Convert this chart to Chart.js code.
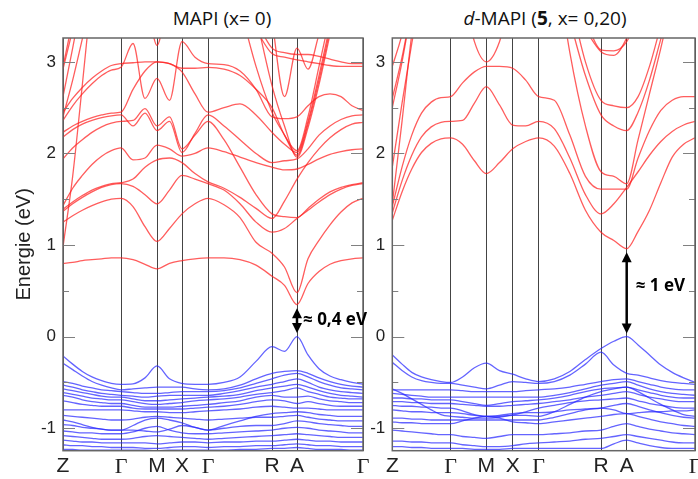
<!DOCTYPE html>
<html>
<head>
<meta charset="utf-8">
<script src="https://cdn.jsdelivr.net/npm/chart.js@4/dist/chart.umd.min.js"></script>
<style>
  body { margin: 0; background: #fff; width: 698px; height: 479px; position: relative; overflow: hidden; }
  canvas { position: absolute; top: 0; }
  #leftChart { left: 0; }
  #rightChart { left: 345px; }
  .title { position: absolute; top: 6px; font-family: 'Open Sans', sans-serif; font-size: 19px; line-height: 24px; color: #111; white-space: nowrap; transform: translateX(-50%); }
</style>
</head>
<body>
<div class="title" style="left:222px">MAPI (x= 0)</div>
<div class="title" style="left:545px"><i>d</i>-MAPI (<b>5</b>, x= 0,20)</div>
<canvas id="leftChart" width="380" height="479" style="width:380px;height:479px"></canvas>
<canvas id="rightChart" width="365" height="479" style="width:365px;height:479px"></canvas>
<script>
const _ = null;

// High-symmetry path
const kLabels = ['Z', 'Γ', 'M', 'X', 'Γ', 'R', 'A', 'Γ'];
const kTicksLeft = [0, 58, 94, 119, 145, 209, 234, 300];
const kTicksRight = [0, 58.4, 94, 120.4, 146.4, 208.7, 234.4, 302.7];
// samples per segment Z-Γ, Γ-M, M-X, X-Γ, Γ-R, R-A, A-Γ (26 points per band)
const segSteps = [6, 3, 2, 2, 4, 2, 6];
const yTicks = [-1, -0.5, 0, 0.5, 1, 1.5, 2, 2.5, 3];

// MAPI (x = 0): conduction bands (eV)
const mapiCond = [
  [0.80,0.81,0.83,0.84,0.85,0.86,0.86, 0.84,0.79,0.74, 0.80,0.83, 0.85,0.86, 0.86,0.84,0.78,0.66, 0.56,0.35, 0.58,0.71,0.79,0.83,0.85,0.86],
  [1.25,1.32,1.38,1.43,1.47,1.50,1.51, 1.42,1.20,1.04, 1.18,1.34, 1.45,1.51, 1.44,1.30,1.03,0.91, 0.76,0.48, 0.85,1.05,1.22,1.36,1.46,1.51],
  [1.37,1.45,1.52,1.58,1.63,1.66,1.67, 1.64,1.55,1.45, 1.60,1.76, 1.72,1.67, 1.60,1.45,1.25,1.14, 1.18,1.29, 1.38,1.47,1.55,1.61,1.65,1.67],
  [1.39,1.47,1.54,1.60,1.64,1.67,1.68, 1.72,1.85,1.93, 1.95,1.90, 1.78,1.69, 1.62,1.52,1.40,1.29, 1.48,1.72, 1.90,2.05,2.17,2.26,2.32,2.34],
  [1.43,1.62,1.76,1.88,1.97,2.03,2.06, 1.93,1.95,2.09, 2.05,1.97, 2.00,2.06, 2.02,1.96,1.90,1.85, 1.82,1.83, 1.88,1.94,1.99,2.02,2.04,2.05],
  [1.94,2.06,2.15,2.23,2.29,2.33,2.35, 2.36,2.49,2.30, 2.40,2.05, 2.20,2.35, 2.15,1.85,1.55,1.34, 1.31,1.30, 1.40,1.50,1.58,1.63,1.66,1.68],
  [2.18,2.26,2.32,2.36,2.39,2.41,2.42, 2.30,2.44,2.25, 2.35,2.01, 2.22,2.42, 2.30,2.15,2.00,1.90, 1.92,1.94, 2.05,2.20,2.30,2.37,2.41,2.42],
  [2.23,2.30,2.35,2.39,2.42,2.44,2.45, 2.70,2.90,3.00, 2.98,2.89, 2.65,2.45, 2.50,2.54,2.42,2.23, 2.10,2.01, 2.35,2.85,3.40],
  [2.36,2.52,2.65,2.76,2.85,2.91,2.94, 3.20,2.60,2.82, 2.58,3.22, 3.05,2.98, 2.97,2.90,2.70,2.40, 2.38,2.40, 2.52,2.62,2.65,2.62,2.52,2.47],
  [2.45,2.60,2.72,2.82,2.90,2.96,2.98, 2.99,3.00,3.00, 2.98,2.93, 2.93,2.94, 2.92,2.85,2.70,2.50, 2.20,2.03, 2.40,2.95,3.50],
  [_,_,_,_,_,_,_, _,_,_, _,_, _,_, _,3.60,2.95,2.45, 2.20,1.98, 2.32,2.80,3.35],
  [_,_,_,_,_,_,_, _,_,_, _,_, _,_, _,_,3.50,2.74, 2.30,1.96, 2.28,2.75,3.30],
  [_,_,_,_,_,_,_, _,_,_, _,_, _,_, _,_,_,3.45, 2.62,3.15, 2.92,3.30],
  [_,_,_,_,_,_,_, _,_,_, _,_, _,_, _,_,3.45,3.15, 3.10,3.08, 3.08,3.06,3.03,3.00,2.98,2.98],
  [_,_,_,_,_,_,_, _,_,_, _,_, _,_, _,_,3.35,3.09, 3.05,3.02, 3.00,2.98,2.96,2.95,2.95,2.95],
  [_,_,_,_,_,_,_, 4.00,3.80,3.18, 3.80,4.00],
  [0.98,1.75,2.75,3.80],
  [2.62,3.15,3.70],
  [2.92,3.35,3.80],
  [2.40,2.80,3.25,3.70],
  [2.95,3.45]
];

// MAPI (x = 0): valence bands (eV)
const mapiVal = [
  [-0.21,-0.30,-0.38,-0.44,-0.48,-0.51,-0.52, -0.515,-0.45,-0.32, -0.46,-0.51, -0.52,-0.52, -0.50,-0.44,-0.27,-0.11, -0.16,0.00, -0.20,-0.35,-0.43,-0.47,-0.50,-0.52],
  [-0.29,-0.36,-0.43,-0.49,-0.53,-0.56,-0.58, -0.57,-0.56,-0.55, -0.55,-0.55, -0.57,-0.58, -0.57,-0.53,-0.46,-0.40, -0.38,-0.37, -0.40,-0.45,-0.49,-0.52,-0.54,-0.55],
  [-0.49,-0.51,-0.54,-0.56,-0.58,-0.59,-0.60, -0.61,-0.62,-0.62, -0.61,-0.60, -0.60,-0.60, -0.59,-0.56,-0.51,-0.46, -0.42,-0.40, -0.44,-0.49,-0.53,-0.56,-0.57,-0.58],
  [-0.53,-0.55,-0.58,-0.60,-0.62,-0.63,-0.64, -0.65,-0.66,-0.65, -0.64,-0.64, -0.64,-0.64, -0.62,-0.59,-0.55,-0.52, -0.49,-0.46, -0.50,-0.55,-0.58,-0.60,-0.61,-0.62],
  [-0.57,-0.59,-0.61,-0.63,-0.65,-0.66,-0.66, -0.68,-0.70,-0.70, -0.69,-0.68, -0.67,-0.66, -0.65,-0.63,-0.59,-0.56, -0.54,-0.52, -0.55,-0.59,-0.62,-0.64,-0.65,-0.66],
  [-0.61,-0.63,-0.65,-0.67,-0.68,-0.69,-0.69, -0.71,-0.73,-0.74, -0.73,-0.72, -0.70,-0.69, -0.68,-0.66,-0.63,-0.61, -0.59,-0.56, -0.60,-0.63,-0.66,-0.67,-0.68,-0.68],
  [-0.64,-0.66,-0.69,-0.71,-0.72,-0.73,-0.73, -0.75,-0.77,-0.77, -0.77,-0.76, -0.75,-0.74, -0.72,-0.70,-0.66,-0.64, -0.66,-0.66, -0.65,-0.68,-0.70,-0.71,-0.72,-0.72],
  [-0.70,-0.72,-0.74,-0.75,-0.76,-0.76,-0.76, -0.78,-0.79,-0.79, -0.79,-0.79, -0.78,-0.77, -0.76,-0.74,-0.71,-0.69, -0.70,-0.73, -0.71,-0.73,-0.75,-0.76,-0.76,-0.76],
  [-0.80,-0.80,-0.80,-0.80,-0.80,-0.80,-0.80, -0.81,-0.82,-0.82, -0.83,-0.83, -0.82,-0.81, -0.80,-0.79,-0.77,-0.76, -0.77,-0.78, -0.78,-0.79,-0.80,-0.80,-0.80,-0.80],
  [-0.86,-0.87,-0.88,-0.89,-0.90,-0.91,-0.91, -0.90,-0.88,-0.87, -0.88,-0.89, -0.90,-0.91, -0.90,-0.89,-0.88,-0.88, -0.87,-0.86, -0.88,-0.90,-0.91,-0.92,-0.92,-0.92],
  [-0.91,-0.93,-0.96,-0.99,-1.01,-1.02,-1.02, -0.97,-0.91,-0.89, -0.91,-0.94, -0.99,-1.02, -0.97,-0.92,-0.87,-0.84, -0.83,-0.82, -0.83,-0.85,-0.86,-0.87,-0.87,-0.87],
  [-0.96,-0.97,-0.99,-1.00,-1.01,-1.02,-1.02, -1.02,-1.03,-1.04, -1.01,-0.97, -0.99,-1.02, -1.00,-0.98,-0.97,-0.97, -0.95,-0.92, -0.93,-0.95,-0.96,-0.97,-0.98,-0.98],
  [-1.03,-1.04,-1.05,-1.05,-1.06,-1.06,-1.06, -1.04,-1.00,-0.98, -1.02,-1.05, -1.06,-1.06, -1.05,-1.04,-1.03,-1.02, -1.00,-0.99, -1.00,-1.02,-1.03,-1.04,-1.05,-1.05],
  [-1.08,-1.09,-1.10,-1.11,-1.12,-1.12,-1.12, -1.11,-1.09,-1.08, -1.09,-1.10, -1.11,-1.12, -1.11,-1.10,-1.09,-1.08, -1.07,-1.06, -1.07,-1.08,-1.09,-1.10,-1.10,-1.10],
  [-1.13,-1.14,-1.15,-1.15,-1.16,-1.16,-1.16, -1.16,-1.16,-1.17, -1.16,-1.15, -1.15,-1.16, -1.15,-1.15,-1.14,-1.14, -1.13,-1.12, -1.13,-1.14,-1.14,-1.15,-1.15,-1.15],
  [-1.18,-1.19,-1.19,-1.20,-1.20,-1.21,-1.21, -1.21,-1.22,-1.22, -1.21,-1.20, -1.20,-1.21, -1.20,-1.20,-1.19,-1.19, -1.18,-1.17, -1.18,-1.19,-1.19,-1.20,-1.20,-1.20],
  [-1.23,-1.23,-1.24,-1.24,-1.24,-1.24,-1.24, -1.24,-1.24,-1.25, -1.24,-1.24, -1.24,-1.24, -1.24,-1.23,-1.23,-1.22, -1.22,-1.21, -1.22,-1.23,-1.23,-1.23,-1.24,-1.24]
];

// d-MAPI (5, x = 0,20): conduction bands (eV)
const dmapiCond = [
  [1.27,1.58,1.83,2.01,2.11,2.16,2.17, 2.10,1.92,1.78, 1.90,2.05, 2.13,2.17, 2.08,1.78,1.38,1.14, 1.05,0.96, 1.15,1.38,1.68,1.96,2.10,2.17],
  [1.35,1.70,1.98,2.18,2.29,2.34,2.35, 2.36,2.55,2.73, 2.53,2.31, 2.30,2.35, 2.27,1.95,1.55,1.34, 1.45,1.63, 1.80,1.98,2.13,2.24,2.31,2.35],
  [1.42,1.85,2.20,2.44,2.56,2.61,2.62, 2.77,2.89,2.95, 2.95,2.93, 2.80,2.62, 2.58,2.20,1.75,1.61, 1.61,1.61, 1.95,2.25,2.47,2.58,2.62,2.62],
  [1.45,2.35,3.30,4.00],
  [1.85,2.55,3.20,3.80],
  [2.50,3.00,3.60],
  [2.60,3.05,3.60],
  [2.95,3.30,3.80],
  [_,_,_,_,_,_,_, 3.80,3.22,3.00, 3.22,3.80],
  [_,_,_,_,_,_,_, _,_,_, _,_, _,_, 4.20,3.10,2.30,1.80, 1.75,1.67, 2.15,2.65,3.15,3.70],
  [_,_,_,_,_,_,_, _,_,_, _,_, _,_, _,3.45,2.85,2.42, 2.30,2.25, 2.45,2.80,3.25,3.70],
  [_,_,_,_,_,_,_, _,_,_, _,_, _,_, _,3.70,3.00,2.58, 2.52,2.50, 2.62,2.95,3.40],
  [_,_,_,_,_,_,_, _,_,_, _,_, _,_, _,_,3.45,3.13, 3.12,3.22, 3.50],
  [_,_,_,_,_,_,_, _,_,_, _,_, _,_, _,_,3.35,3.11, 3.07,3.26, 3.60]
];

// d-MAPI (5, x = 0,20): valence bands (eV)
const dmapiVal = [
  [-0.20,-0.30,-0.39,-0.44,-0.47,-0.49,-0.50, -0.44,-0.34,-0.29, -0.37,-0.41, -0.46,-0.49, -0.46,-0.38,-0.25,-0.13, -0.05,0.00, -0.09,-0.20,-0.31,-0.39,-0.45,-0.50],
  [-0.28,-0.37,-0.44,-0.48,-0.50,-0.51,-0.51, -0.53,-0.55,-0.57, -0.53,-0.49, -0.50,-0.51, -0.49,-0.42,-0.30,-0.17, -0.31,-0.40, -0.42,-0.45,-0.48,-0.50,-0.51,-0.52],
  [-0.57,-0.62,-0.68,-0.74,-0.80,-0.85,-0.87, -0.88,-0.89,-0.89, -0.88,-0.86, -0.86,-0.87, -0.82,-0.74,-0.66,-0.60, -0.57,-0.55, -0.60,-0.67,-0.74,-0.80,-0.85,-0.87],
  [-0.58,-0.58,-0.58,-0.58,-0.58,-0.58,-0.58, -0.59,-0.60,-0.60, -0.60,-0.60, -0.59,-0.58, -0.57,-0.55,-0.52,-0.49, -0.47,-0.46, -0.49,-0.52,-0.55,-0.57,-0.58,-0.58],
  [-0.62,-0.63,-0.64,-0.65,-0.66,-0.66,-0.66, -0.66,-0.66,-0.66, -0.66,-0.66, -0.66,-0.66, -0.64,-0.61,-0.57,-0.53, -0.51,-0.49, -0.53,-0.57,-0.60,-0.62,-0.63,-0.64],
  [-0.67,-0.67,-0.68,-0.68,-0.69,-0.69,-0.69, -0.71,-0.73,-0.75, -0.73,-0.71, -0.70,-0.69, -0.67,-0.64,-0.60,-0.57, -0.56,-0.55, -0.58,-0.61,-0.64,-0.66,-0.67,-0.67],
  [-0.71,-0.71,-0.72,-0.72,-0.73,-0.73,-0.73, -0.74,-0.75,-0.76, -0.76,-0.75, -0.74,-0.73, -0.71,-0.69,-0.66,-0.64, -0.62,-0.60, -0.63,-0.66,-0.68,-0.70,-0.71,-0.71],
  [-0.75,-0.76,-0.76,-0.77,-0.77,-0.78,-0.78, -0.81,-0.85,-0.87, -0.87,-0.855, -0.82,-0.78, -0.75,-0.72,-0.70,-0.69, -0.68,-0.67, -0.70,-0.73,-0.75,-0.77,-0.78,-0.78],
  [-0.80,-0.81,-0.82,-0.82,-0.83,-0.83,-0.83, -0.84,-0.86,-0.87, -0.86,-0.84, -0.83,-0.83, -0.82,-0.80,-0.79,-0.78, -0.80,-0.84, -0.83,-0.82,-0.82,-0.81,-0.81,-0.80],
  [-0.89,-0.89,-0.90,-0.90,-0.91,-0.91,-0.91, -0.91,-0.91,-0.91, -0.91,-0.91, -0.91,-0.91, -0.88,-0.84,-0.80,-0.78, -0.75,-0.73, -0.76,-0.80,-0.83,-0.86,-0.88,-0.89],
  [-0.93,-0.94,-0.94,-0.95,-0.95,-0.95,-0.95, -0.92,-0.89,-0.87, -0.89,-0.93, -0.94,-0.95, -0.93,-0.91,-0.89,-0.87, -0.85,-0.84, -0.87,-0.90,-0.93,-0.95,-0.97,-0.98],
  [-1.02,-1.03,-1.04,-1.05,-1.06,-1.07,-1.07, -1.09,-1.10,-1.11, -1.09,-1.07, -1.07,-1.07, -1.06,-1.05,-1.03,-1.02, -0.98,-0.95, -0.98,-1.01,-1.03,-1.05,-1.06,-1.07],
  [-1.14,-1.14,-1.15,-1.15,-1.16,-1.16,-1.16, -1.18,-1.19,-1.20, -1.20,-1.19, -1.17,-1.16, -1.15,-1.14,-1.12,-1.11, -1.09,-1.07, -1.09,-1.11,-1.13,-1.15,-1.16,-1.16],
  [-1.20,-1.20,-1.21,-1.21,-1.22,-1.22,-1.22, -1.22,-1.23,-1.23, -1.23,-1.22, -1.22,-1.22, -1.22,-1.22,-1.22,-1.22, -1.17,-1.13, -1.16,-1.19,-1.21,-1.22,-1.22,-1.22]
];

// Gap markers at A: arrow ends (eV), label and label height (eV)
const gapLeft = { from: 0.04, to: 0.31, label: '≈ 0,4 eV', at: 0.18 };
const gapRight = { from: 0.035, to: 0.92, label: '≈ 1 eV', at: 0.55 };

const red = 'rgba(255, 30, 30, 0.72)';
const blue = 'rgba(40, 40, 255, 0.72)';

function kGrid(ticks) {
    const ks = [ticks[0]];
    segSteps.forEach((n, s) => {
        for (let i = 1; i <= n; i++) ks.push(ticks[s] + (ticks[s + 1] - ticks[s]) * i / n);
    });
    return ks;
}

function bandSets(bands, ks, color) {
    return bands.map(b => ({
        data: b.map((v, i) => ({ x: ks[i], y: v })),
        borderColor: color,
        borderWidth: 1.3,
        pointRadius: 0,
        fill: false,
        cubicInterpolationMode: 'monotone',
        spanGaps: false
    }));
}

// Frame, inside tick marks and the gap arrow
const framePlugin = {
    id: 'frame',
    afterDraw(chart, args, opts) {
        const { ctx, chartArea: a, scales: { x, y } } = chart;
        ctx.save();
        ctx.strokeStyle = '#808080';
        ctx.lineWidth = 1.2;
        y.ticks.forEach(t => {
            const py = Math.round(y.getPixelForValue(t.value)) + 0.5;
            const len = Number.isInteger(t.value) ? 12 : 6;
            ctx.beginPath();
            ctx.moveTo(a.left, py); ctx.lineTo(a.left + len, py);
            ctx.moveTo(a.right, py); ctx.lineTo(a.right - len, py);
            ctx.stroke();
        });
        ctx.strokeStyle = '#666';
        ctx.lineWidth = 1.5;
        ctx.strokeRect(a.left, a.top, a.right - a.left, a.bottom - a.top);

        // double arrow: bottom head points down, top head points up
        const g = opts.gap;
        const px = x.getPixelForValue(opts.kA);
        const yBot = y.getPixelForValue(g.from), yTop = y.getPixelForValue(g.to);
        ctx.strokeStyle = '#000';
        ctx.fillStyle = '#000';
        ctx.lineWidth = 2.5;
        ctx.beginPath();
        ctx.moveTo(px, yBot - 6); ctx.lineTo(px, yTop + 6);
        ctx.stroke();
        [[yBot, -1], [yTop, 1]].forEach(([py, dir]) => {
            ctx.beginPath();
            ctx.moveTo(px, py);
            ctx.lineTo(px - 5, py + dir * 10);
            ctx.lineTo(px + 5, py + dir * 10);
            ctx.closePath();
            ctx.fill();
        });
        ctx.font = 'bold 17px "Open Sans"';
        ctx.textBaseline = 'middle';
        ctx.textAlign = 'left';
        ctx.fillText(g.label, px + opts.textGap, y.getPixelForValue(g.at));
        ctx.restore();
    }
};

function makeChart(id, ticks, cond, val, gap, yWidth, padRight, textGap, showTitle) {
    const ks = kGrid(ticks);
    return new Chart(document.getElementById(id), {
        type: 'line',
        data: { datasets: bandSets(cond, ks, red).concat(bandSets(val, ks, blue)) },
        options: {
            responsive: false,
            animation: false,
            events: [],
            layout: { padding: { top: 38, right: padRight, left: 0, bottom: 0 } },
            plugins: {
                legend: { display: false },
                tooltip: { enabled: false },
                frame: { gap: gap, kA: ticks[6], textGap: textGap }
            },
            scales: {
                x: {
                    type: 'linear',
                    min: 0,
                    max: ticks[ticks.length - 1],
                    afterBuildTicks: s => { s.ticks = ticks.map(v => ({ value: v })); },
                    afterFit: s => { s.height = 28.3; },
                    ticks: {
                        autoSkip: false,
                        maxRotation: 0,
                        padding: 3,
                        color: '#222',
                        callback: (v, i) => kLabels[i],
                        font: c => kLabels[c.index] === 'Γ'
                            ? { family: 'Liberation Serif', size: 22 }
                            : { family: 'Liberation Sans', size: 21 }
                    },
                    grid: { color: '#444', lineWidth: 1, drawTicks: false },
                    border: { display: false }
                },
                y: {
                    min: -1.245,
                    max: 3.26,
                    afterBuildTicks: s => { s.ticks = yTicks.map(v => ({ value: v })); },
                    afterFit: s => { s.width = yWidth; },
                    ticks: {
                        padding: 7,
                        color: '#222',
                        font: { family: 'Liberation Sans', size: 17 },
                        callback: v => Number.isInteger(v) ? String(v) : ''
                    },
                    grid: { display: false, drawTicks: false },
                    border: { display: false },
                    title: {
                        display: showTitle,
                        text: 'Energie (eV)',
                        color: '#222',
                        font: { family: 'Liberation Sans', size: 20 },
                        padding: { top: 12, bottom: 0 }
                    }
                }
            }
        },
        plugins: [framePlugin]
    });
}

makeChart('leftChart', kTicksLeft, mapiCond, mapiVal, gapLeft, 63, 17, 6, true);
makeChart('rightChart', kTicksRight, dmapiCond, dmapiVal, gapRight, 47.3, 15, 9, false);
</script>
</body>
</html>
